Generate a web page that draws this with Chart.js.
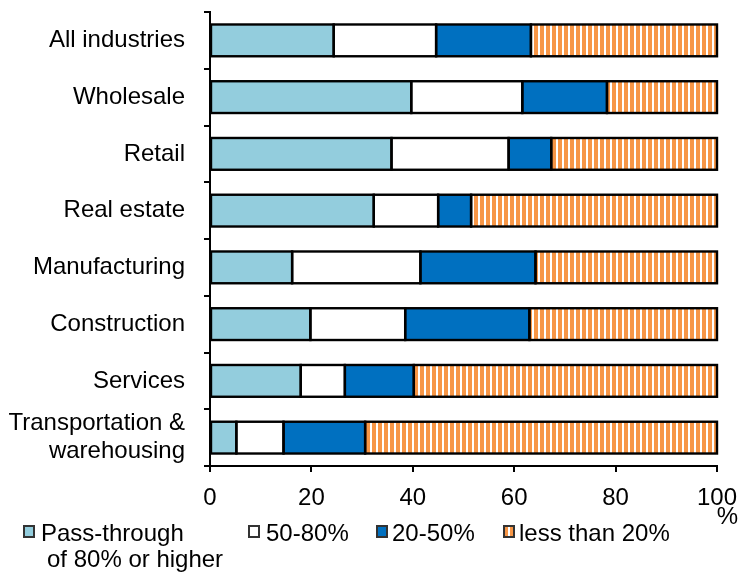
<!DOCTYPE html>
<html>
<head>
<meta charset="utf-8">
<script src="https://cdn.jsdelivr.net/npm/chart.js@4/dist/chart.umd.min.js"></script>
<style>
  html, body { margin: 0; padding: 0; background: #fff; }
  #wrap { position: relative; width: 740px; height: 572px; font-family: "Liberation Sans", Arial, sans-serif; color: #000; }
  #chart { position: absolute; left: 0; top: 0; }
  .leg { position: absolute; top: 520px; font-size: 24px; line-height: 26px; white-space: nowrap; }
  .box { position: absolute; top: 525px; width: 8px; height: 9px; border: 2px solid #333; }
  #unit { position: absolute; top: 503px; right: 2px; font-size: 24px; line-height: 26px; }
</style>
</head>
<body>
<div id="wrap">
  <canvas id="chart" width="740" height="572"></canvas>
  <div class="box" style="left:23px;background:#93CDDD"></div>
  <div class="leg" style="left:41px">Pass-through<br><span style="padding-left:6px">of 80% or higher</span></div>
  <div class="box" style="left:248px;background:#fff"></div>
  <div class="leg" style="left:266px">50-80%</div>
  <div class="box" style="left:376px;background:#0070C0"></div>
  <div class="leg" style="left:392px">20-50%</div>
  <div class="box" style="left:503px;background:repeating-linear-gradient(90deg,#F79646 0 3px,#fff 3px 5px)"></div>
  <div class="leg" style="left:519px">less than 20%</div>
  <div id="unit">%</div>
</div>
<script>
// Industries, top to bottom
const categories = [
  'All industries', 'Wholesale', 'Retail', 'Real estate',
  'Manufacturing', 'Construction', 'Services',
  ['Transportation &', 'warehousing']
];
// Share of firms (%) by degree of cost pass-through
const passHigh = [24.4, 39.7, 35.8, 32.3, 16.2, 19.8, 17.9, 5.2];   // 80% or higher
const pass5080 = [20.2, 21.9, 23.1, 12.7, 25.3, 18.7, 8.7, 9.3];    // 50-80%
const pass2050 = [18.7, 16.7, 8.4, 6.5, 22.7, 24.5, 13.6, 16.1];    // 20-50%
const passLow  = [36.7, 21.7, 32.7, 48.5, 35.8, 37.0, 59.8, 69.4];  // less than 20%
const xTicks = [0, 20, 40, 60, 80, 100];

// Vertical orange/white stripes
function stripes() {
  const c = document.createElement('canvas');
  c.width = 6; c.height = 8;
  const g = c.getContext('2d');
  g.fillStyle = '#fff'; g.fillRect(0, 0, 6, 8);
  g.fillStyle = '#F79646'; g.fillRect(0, 0, 4, 8);
  return g.createPattern(c, 'repeat');
}

Chart.defaults.font.family = '"Liberation Sans", Arial, sans-serif';
Chart.defaults.font.size = 24;
Chart.defaults.color = '#000';

// Black outline around each bar segment, centred on its edges
const outline = {
  id: 'outline',
  afterDatasetsDraw(chart) {
    const ctx = chart.ctx;
    ctx.save();
    ctx.strokeStyle = '#000';
    ctx.lineWidth = 2.4;
    chart.data.datasets.forEach((ds, i) => {
      chart.getDatasetMeta(i).data.forEach(el => {
        const p = el.getProps(['x', 'y', 'base', 'height'], true);
        const l = Math.min(p.x, p.base), r = Math.max(p.x, p.base);
        ctx.strokeRect(l, p.y - p.height / 2, r - l, p.height);
      });
    });
    ctx.restore();
  }
};

const mk = (label, data, color) => ({
  label, data, backgroundColor: color, borderWidth: 0,
  barPercentage: 0.56, categoryPercentage: 1
});

new Chart(document.getElementById('chart'), {
  type: 'bar',
  data: {
    labels: categories,
    datasets: [
      mk('Pass-through of 80% or higher', passHigh, '#93CDDD'),
      mk('50-80%', pass5080, '#FFFFFF'),
      mk('20-50%', pass2050, '#0070C0'),
      mk('less than 20%', passLow, stripes())
    ]
  },
  options: {
    indexAxis: 'y',
    responsive: false,
    animation: false,
    layout: { padding: { top: 12, right: 23, left: 0, bottom: 0 } },
    plugins: { legend: { display: false }, tooltip: { enabled: false } },
    scales: {
      x: {
        stacked: true, min: 0, max: 100,
        afterBuildTicks: s => { s.ticks = xTicks.map(v => ({ value: v })); },
        afterFit: s => { s.height = 106; s.paddingLeft = 0; s.paddingRight = 0; },
        grid: { drawOnChartArea: false, drawTicks: true, tickLength: 6, color: '#000', lineWidth: 2 },
        border: { display: true, color: '#000', width: 2 },
        ticks: { padding: 12, maxRotation: 0 }
      },
      y: {
        stacked: true, offset: true,
        afterFit: s => { s.width = 210; s.paddingTop = 0; s.paddingBottom = 0; },
        grid: { offset: true, drawOnChartArea: false, drawTicks: true, tickLength: 6, color: '#000', lineWidth: 2 },
        border: { display: true, color: '#000', width: 2 },
        ticks: { padding: 19, autoSkip: false, font: { lineHeight: 1.15 } }
      }
    }
  },
  plugins: [outline]
});
</script>
</body>
</html>
